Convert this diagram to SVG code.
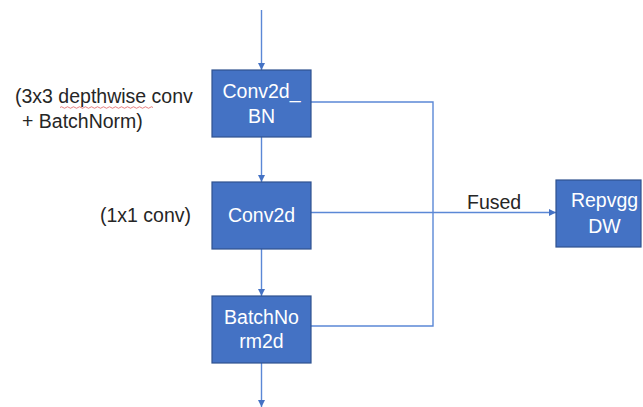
<svg xmlns="http://www.w3.org/2000/svg" width="643" height="407" viewBox="0 0 643 407">
<style>
.box{fill:#4472C4;stroke:#2F528F;stroke-width:1.2}
.bt{font-family:"Liberation Sans",Arial,sans-serif;font-size:19.5px;fill:#ffffff;text-anchor:middle}
.lb{font-family:"Liberation Sans",Arial,sans-serif;font-size:19.5px;fill:#262626}
.ln{fill:none;stroke:#5B88D6;stroke-width:1.4}
</style>
<defs>
<marker id="ah" viewBox="0 0 10 10" refX="10" refY="5" markerWidth="7" markerHeight="7" markerUnits="userSpaceOnUse" orient="auto">
<path d="M0,0 L10,5 L0,10 Z" fill="#4472C4"/>
</marker>
</defs>
<rect width="643" height="407" fill="#ffffff"/>
<g id="connectors">
<line class="ln" x1="261.5" y1="10" x2="261.5" y2="70" marker-end="url(#ah)"/>
<line class="ln" x1="261.5" y1="137" x2="261.5" y2="182" marker-end="url(#ah)"/>
<line class="ln" x1="261.5" y1="249" x2="261.5" y2="296" marker-end="url(#ah)"/>
<line class="ln" x1="261.5" y1="363" x2="261.5" y2="407" marker-end="url(#ah)"/>
<polyline class="ln" points="311,102 433,102 433,326 311,326"/>
<line class="ln" x1="311" y1="212.5" x2="556" y2="212.5" marker-end="url(#ah)"/>
<text class="lb" x="467" y="209">Fused</text>
</g>
<g id="labels">
<text class="lb" x="15" y="103">(3x3 depthwise conv</text>
<path d="M60,107.5 q1.5,-1.5 3,0 t3,0 t3,0 t3,0 t3,0 t3,0 t3,0 t3,0 t3,0 t3,0 t3,0 t3,0 t3,0 t3,0 t3,0 t3,0 t3,0 t3,0 t3,0 t3,0 t3,0 t3,0 t3,0 t3,0 t3,0 t3,0 t3,0 t3,0 t3,0 t3,0 t3,0" fill="none" stroke="#E06060" stroke-width="0.8"/>
<text class="lb" x="22" y="128">+ BatchNorm)</text>
<text class="lb" x="100" y="222">(1x1 conv)</text>
</g>
<g id="conv2d_bn">
<rect class="box" x="212" y="70" width="99" height="67"/>
<text class="bt" x="261.5" y="98">Conv2d_</text>
<text class="bt" x="261.5" y="123">BN</text>
</g>
<g id="conv2d">
<rect class="box" x="212" y="182" width="99" height="67"/>
<text class="bt" x="261.5" y="222">Conv2d</text>
</g>
<g id="batchnorm2d">
<rect class="box" x="212" y="296" width="99" height="67"/>
<text class="bt" x="261.5" y="324">BatchNo</text>
<text class="bt" x="261.5" y="348">rm2d</text>
</g>
<g id="repvgg_dw">
<rect class="box" x="556" y="180" width="85" height="67"/>
<text class="bt" x="604.5" y="207">Repvgg</text>
<text class="bt" x="604.5" y="233">DW</text>
</g>
</svg>
